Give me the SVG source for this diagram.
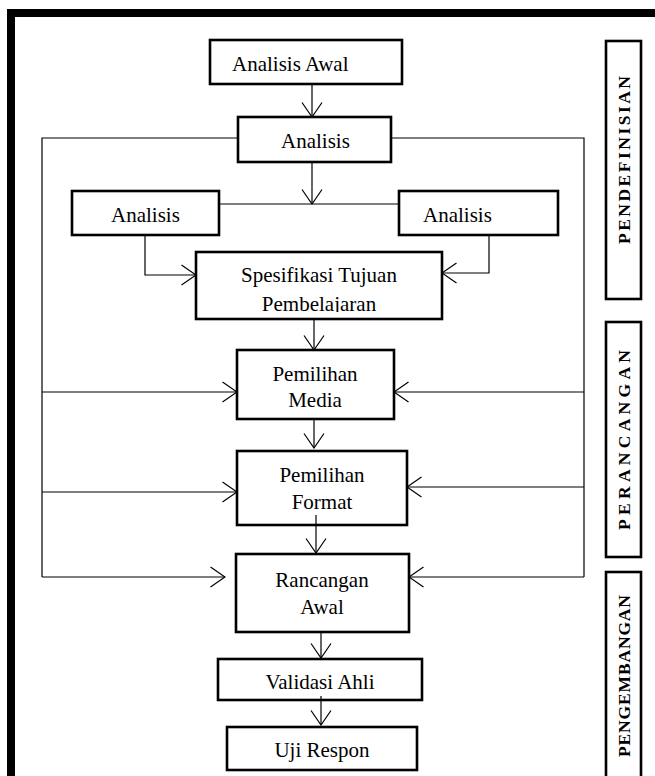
<svg xmlns="http://www.w3.org/2000/svg" width="655" height="776" viewBox="0 0 655 776">
<style>
.box{fill:#fff;stroke:#000;stroke-width:2.6}
.lbl{fill:#fff;stroke:#000;stroke-width:2.6}
.t{font-family:'Liberation Serif',serif;font-size:21px;fill:#000}
.c{text-anchor:middle}
.v{font-family:'Liberation Serif',serif;font-size:17.5px;font-weight:bold;fill:#000;text-anchor:middle}
.ln{fill:none;stroke:#000;stroke-width:1.2}
.ar{fill:none;stroke:#000;stroke-width:1.2;marker-end:url(#ah)}
</style>
<defs>
<marker id="ah" viewBox="0 0 16 22" refX="15" refY="11" markerWidth="16" markerHeight="22" markerUnits="userSpaceOnUse" orient="auto">
<path d="M0.5,1 L15,11 L0.5,21" fill="none" stroke="#000" stroke-width="1.2"/>
</marker>
<clipPath id="clipSpes"><rect x="196" y="252" width="246" height="60"/></clipPath>
</defs>
<rect width="655" height="776" fill="#fff"/>
<rect x="11" y="13" width="700" height="800" fill="none" stroke="#000" stroke-width="8"/>

<g id="n-analisis-awal">
<rect class="box" x="210" y="40" width="192" height="44"/>
<text class="t" x="232" y="71" font-family="Liberation Serif, serif">Analisis Awal</text>
</g>
<g id="n-analisis">
<rect class="box" x="238" y="117" width="153" height="45"/>
<text class="t" x="281" y="148" font-family="Liberation Serif, serif">Analisis</text>
</g>
<g id="n-analisis-kiri">
<rect class="box" x="72" y="191" width="147" height="44"/>
<text class="t" x="111" y="222" font-family="Liberation Serif, serif">Analisis</text>
</g>
<g id="n-analisis-kanan">
<rect class="box" x="399" y="191" width="159" height="44"/>
<text class="t" x="423" y="222" font-family="Liberation Serif, serif">Analisis</text>
</g>
<g id="n-spesifikasi">
<rect class="box" x="196" y="252" width="246" height="67"/>
<text class="t c" x="319" y="282" font-family="Liberation Serif, serif">Spesifikasi Tujuan</text>
<text class="t c" x="319" y="311" font-family="Liberation Serif, serif" clip-path="url(#clipSpes)">Pembelajaran</text>
</g>
<g id="n-media">
<rect class="box" x="237" y="350" width="157" height="69"/>
<text class="t c" x="315" y="381" font-family="Liberation Serif, serif">Pemilihan</text>
<text class="t c" x="315" y="407" font-family="Liberation Serif, serif">Media</text>
</g>
<g id="n-format">
<rect class="box" x="237" y="451" width="170" height="74"/>
<text class="t c" x="322" y="482" font-family="Liberation Serif, serif">Pemilihan</text>
<text class="t c" x="322" y="509" font-family="Liberation Serif, serif">Format</text>
</g>
<g id="n-rancangan">
<rect class="box" x="236" y="554" width="173" height="78"/>
<text class="t c" x="322" y="587" font-family="Liberation Serif, serif">Rancangan</text>
<text class="t c" x="322" y="614" font-family="Liberation Serif, serif">Awal</text>
</g>
<g id="n-validasi">
<rect class="box" x="218" y="659" width="204" height="41"/>
<text class="t c" x="320" y="689" font-family="Liberation Serif, serif">Validasi Ahli</text>
</g>
<g id="n-uji">
<rect class="box" x="227" y="727" width="190" height="43"/>
<text class="t c" x="322" y="757" font-family="Liberation Serif, serif">Uji Respon</text>
</g>

<g id="connectors">
<path class="ar" d="M312,84 V117"/>
<path class="ar" d="M312,162 V204"/>
<path class="ln" d="M219,204 H399"/>
<path class="ln" d="M238,138 H42 V577"/>
<path class="ar" d="M42,577 H225"/>
<path class="ar" d="M42,392 H237"/>
<path class="ar" d="M42,492 H237"/>
<path class="ln" d="M391,138 H584 V577"/>
<path class="ar" d="M584,577 H409"/>
<path class="ar" d="M584,392 H394"/>
<path class="ar" d="M584,487 H407"/>
<path class="ar" d="M145,235 V275 H196"/>
<path class="ar" d="M489,235 V273 H442"/>
<path class="ar" d="M314,319 V350"/>
<path class="ar" d="M314,419 V448"/>
<path class="ar" d="M316,515 V553"/>
<path class="ar" d="M321,632 V658"/>
<path class="ar" d="M321,696 V725"/>
</g>

<g id="l-pendefinisian">
<rect class="lbl" x="606" y="41" width="35" height="258"/>
<text class="v" transform="translate(630,160) rotate(-90)" font-family="Liberation Serif, serif" textLength="168" lengthAdjust="spacing">PENDEFINISIAN</text>
</g>
<g id="l-perancangan">
<rect class="lbl" x="606" y="322" width="35" height="235"/>
<text class="v" transform="translate(630,440) rotate(-90)" font-family="Liberation Serif, serif" textLength="180" lengthAdjust="spacing">PERANCANGAN</text>
</g>
<g id="l-pengembangan">
<rect class="lbl" x="606" y="572" width="35" height="210"/>
<text class="v" transform="translate(630,676) rotate(-90)" font-family="Liberation Serif, serif" textLength="162" lengthAdjust="spacing">PENGEMBANGAN</text>
</g>
</svg>
